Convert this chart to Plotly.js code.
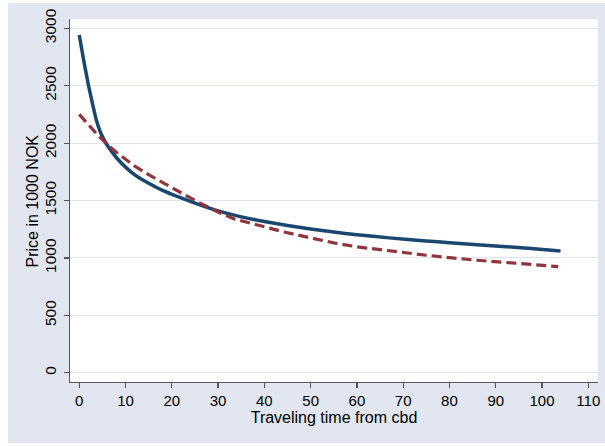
<!DOCTYPE html>
<html>
<head>
<meta charset="utf-8">
<script src="https://cdn.plot.ly/plotly-3.0.1.min.js"></script>
<style>
  html, body { margin: 0; padding: 0; background: #ffffff; }
  #chart { position: absolute; left: 8px; top: 3px; width: 597px; height: 440px; }
</style>
</head>
<body>
<div id="chart"></div>
<script>
// Solid line (navy): fitted price vs travel time
const solidX = [0, 1, 2, 3, 3.7, 4.5, 5, 5.8, 7, 8, 10, 12, 15, 18, 21, 25, 30, 35, 40, 45, 50, 55, 60, 67, 75, 80, 86, 97, 104];
const solidY = [2942, 2712, 2502, 2318, 2200, 2103, 2057, 1997, 1927, 1875, 1791, 1723, 1650, 1588, 1538, 1478, 1410, 1358, 1318, 1283, 1253, 1226, 1202, 1175, 1148, 1133, 1115, 1085, 1060];

// Dashed line (maroon): alternative fit
const dashX = [0, 2, 4, 6, 8, 10, 12, 15, 18, 20, 23, 26, 30, 33.5, 40, 44.3, 50, 55, 60, 67, 75, 80, 86, 97, 103.5];
const dashY = [2250, 2155, 2070, 1990, 1920, 1860, 1800, 1725, 1655, 1610, 1545, 1480, 1400, 1340, 1272, 1226, 1175, 1132, 1097, 1060, 1024, 1003, 980, 946, 925];

const xTicks = [0, 10, 20, 30, 40, 50, 60, 70, 80, 90, 100, 110];
const yTicks = [0, 500, 1000, 1500, 2000, 2500, 3000];

const xTitle = 'Traveling time from cbd';
const yTitle = 'Price in 1000 NOK';

const FONT = 'Liberation Sans, Arial, sans-serif';

const traces = [
  {
    x: solidX, y: solidY, type: 'scatter', mode: 'lines',
    line: { color: '#1A476F', width: 3.5, shape: 'spline', smoothing: 0.4 },
    hoverinfo: 'skip', showlegend: false
  },
  {
    x: dashX, y: dashY, type: 'scatter', mode: 'lines',
    line: { color: '#90353B', width: 3.2, dash: '10px,5px', shape: 'linear' },
    hoverinfo: 'skip', showlegend: false
  }
];

const layout = {
  width: 597, height: 440,
  paper_bgcolor: '#E1E6F0',
  plot_bgcolor: '#FFFFFF',
  margin: { l: 62, r: 7, t: 16, b: 61, pad: 0 },
  font: { family: FONT, size: 15, color: '#000000' },
  showlegend: false,
  xaxis: {
    range: [-2.0, 112.1],
    tickmode: 'array', tickvals: xTicks, ticktext: xTicks.map(String),
    ticks: 'outside', ticklen: 5, tickwidth: 1.2, tickcolor: '#555555',
    showline: true, linecolor: '#555555', linewidth: 1.3, mirror: false,
    showgrid: false, zeroline: false,
    tickfont: { family: FONT, size: 15, color: '#000000' },
    title: { text: xTitle, font: { family: FONT, size: 16, color: '#000000' }, standoff: 0 }
  },
  yaxis: {
    range: [-80, 3081],
    tickmode: 'array', tickvals: yTicks, ticktext: yTicks.map(String),
    tickangle: -90,
    ticks: 'outside', ticklen: 5, tickwidth: 1.2, tickcolor: '#555555',
    ticklabelstandoff: 2,
    showline: true, linecolor: '#555555', linewidth: 1.3, mirror: false,
    showgrid: true, gridcolor: '#DFE4EE', gridwidth: 1,
    zeroline: false,
    tickfont: { family: FONT, size: 15.5, color: '#000000' }
  },
  annotations: [
    {
      text: yTitle, xref: 'paper', yref: 'paper',
      x: -0.0701, y: 0.5, xanchor: 'center', yanchor: 'middle',
      textangle: -90, showarrow: false,
      font: { family: FONT, size: 16, color: '#000000' }
    }
  ]
};

Plotly.newPlot('chart', traces, layout, { staticPlot: true, displayModeBar: false });
</script>
</body>
</html>
